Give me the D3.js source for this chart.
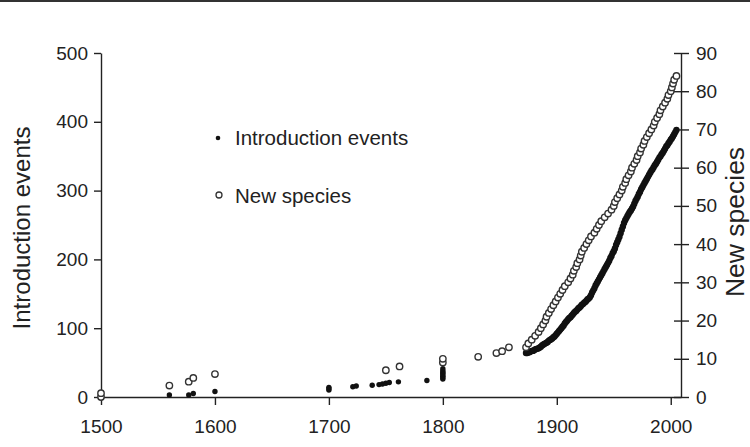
<!DOCTYPE html>
<html>
<head>
<meta charset="utf-8">
<script src="https://cdn.jsdelivr.net/npm/d3@7"></script>
<style>
  body { margin: 0; background: #fff; }
  svg { display: block; font-family: "Liberation Sans", Arial, sans-serif; }
</style>
</head>
<body>
<svg></svg>
<script>
const width = 750;
const height = 447;

// introduction events (left axis), early scattered records
const earlyIntroYears = [1500, 1560, 1577, 1581, 1600, 1700, 1700, 1700, 1721, 1724, 1738, 1744, 1747, 1750, 1753, 1761, 1786,
    1800, 1800, 1800, 1800, 1800, 1800, 1800, 1800];
const earlyIntroCounts = [1, 3, 3, 5, 8, 10, 12, 14, 15, 16, 17, 18, 19, 20, 21, 22, 24,
    26, 28, 30, 32, 34, 36, 38, 41];

// introduction events, one reading per year 1873-2005
const introYears = d3.range(1873, 2006);
const introCounts = [
    64, 64, 65, 65, 66, 67, 67, 68, 69, 70, 70, 71, 72, 73, 75, 76, 77, 78, 79, 80,
    82, 83, 84, 85, 87, 88, 90, 92, 94, 96, 98, 100, 102, 104, 107, 109, 111, 113, 115, 116,
    118, 120, 122, 124, 125, 127, 129, 130, 132, 134, 135, 137, 138, 140, 142, 143, 145, 148, 152, 155,
    158, 162, 165, 168, 171, 174, 177, 180, 183, 186, 189, 192, 195, 198, 202, 205, 209, 212, 216, 221,
    225, 229, 233, 238, 243, 248, 253, 257, 260, 263, 266, 269, 271, 274, 277, 281, 285, 288, 291, 295,
    298, 302, 305, 308, 311, 314, 317, 320, 323, 326, 329, 331, 334, 337, 339, 342, 345, 348, 350, 353,
    355, 358, 361, 364, 366, 369, 371, 374, 376, 379, 382, 385, 388
];

// new species (right axis), cumulative
const speciesYears = [1500, 1500, 1560, 1577, 1581, 1600, 1750, 1762, 1800, 1800, 1831, 1847, 1852, 1858,
    1873, 1875, 1878, 1881, 1884, 1886, 1888, 1890, 1891, 1893, 1895, 1897, 1899, 1901, 1903, 1905,
    1907, 1910, 1912, 1914, 1915, 1917, 1918, 1920, 1921, 1922, 1924, 1926, 1928, 1930, 1933, 1935,
    1937, 1939, 1942, 1945, 1948, 1950, 1951, 1953, 1955, 1957, 1958, 1960, 1961, 1963, 1965, 1966,
    1968, 1970, 1971, 1973, 1974, 1976, 1977, 1979, 1981, 1983, 1985, 1986, 1988, 1990, 1991, 1993,
    1995, 1997, 1998, 2000, 2001, 2002, 2003, 2005];
const speciesCounts = [0, 1, 3, 4, 5, 6, 7, 8, 9, 10, 10.5, 11.5, 12, 13,
    13, 14, 15, 16, 17, 18, 19, 20, 21, 22, 23, 24, 25, 26, 27, 28,
    29, 30, 31, 32, 33, 34, 35, 36, 37, 38, 39, 40, 41, 42, 43, 44,
    45, 46, 47, 48, 49, 50, 51, 52, 53, 54, 55, 56, 57, 58, 59, 60,
    61, 62, 63, 64, 65, 66, 67, 68, 69, 70, 71, 72, 73, 74, 75, 76,
    77, 78, 79, 80, 81, 82, 83, 84];

const xTicks = [1500, 1600, 1700, 1800, 1900, 2000];
const leftTicks = [0, 100, 200, 300, 400, 500];
const rightTicks = [0, 10, 20, 30, 40, 50, 60, 70, 80, 90];

const plotLeft = 101, plotRight = 681, plotTop = 53, plotBottom = 397;

const x = d3.scaleLinear().domain([1500, 2009]).range([plotLeft, plotRight]);
const yLeft = d3.scaleLinear().domain([0, 500]).range([plotBottom, plotTop]);
const yRight = d3.scaleLinear().domain([0, 90]).range([plotBottom, plotTop]);

const svg = d3.select('svg')
    .attr('width', width)
    .attr('height', height);

svg.append('rect').attr('width', width).attr('height', height).attr('fill', '#fff');
svg.append('rect')
    .attr('x', 0).attr('y', 0)
    .attr('width', width).attr('height', 2)
    .attr('fill', '#333');

function styleAxis(g) {
    g.selectAll('path, line').attr('stroke', '#222').attr('stroke-width', 1.4);
    g.selectAll('text')
        .attr('fill', '#222')
        .style('font-size', '19px')
        .style('font-family', '"Liberation Sans", Arial, sans-serif');
}

svg.append('g')
    .attr('transform', `translate(0, ${plotBottom})`)
    .call(d3.axisBottom(x).tickValues(xTicks).tickFormat(d3.format('d')).tickSize(8).tickSizeOuter(0).tickPadding(15))
    .call(styleAxis);

svg.append('g')
    .attr('transform', `translate(${plotLeft}, 0)`)
    .call(d3.axisLeft(yLeft).tickValues(leftTicks).tickSize(7).tickSizeOuter(0).tickPadding(6))
    .call(styleAxis);

svg.append('g')
    .attr('transform', `translate(${plotRight}, 0)`)
    .call(d3.axisRight(yRight).tickValues(rightTicks).tickSize(8).tickSizeOuter(0).tickPadding(7))
    .call(styleAxis)
    .call(g => g.selectAll('.tick line').attr('x1', -7).attr('x2', 8));

// axis titles
svg.append('text')
    .attr('transform', `translate(30, 228) rotate(-90)`)
    .attr('text-anchor', 'middle')
    .attr('fill', '#222')
    .style('font-size', '24px')
    .text('Introduction events');

svg.append('text')
    .attr('transform', `translate(744, 222) rotate(-90)`)
    .attr('text-anchor', 'middle')
    .attr('fill', '#222')
    .style('font-size', '26.5px')
    .text('New species');

// points
const intro = earlyIntroYears.map((yr, i) => ({ year: yr, count: earlyIntroCounts[i] }))
    .concat(introYears.map((yr, i) => ({ year: yr, count: introCounts[i] })));
const species = speciesYears.map((yr, i) => ({ year: yr, count: speciesCounts[i] }));

svg.append('g')
    .selectAll('circle')
    .data(intro)
    .enter()
    .append('circle')
        .attr('cx', d => x(d.year))
        .attr('cy', d => yLeft(d.count))
        .attr('r', d => d.year >= 1873 ? 3.2 : 2.7)
        .attr('fill', '#111');

svg.append('g')
    .selectAll('circle')
    .data(species)
    .enter()
    .append('circle')
        .attr('cx', d => x(d.year))
        .attr('cy', d => yRight(d.count))
        .attr('r', 3.2)
        .attr('fill', '#fff')
        .attr('stroke', '#333')
        .attr('stroke-width', 1.4);

// legend
const legend = svg.append('g');
legend.append('circle').attr('cx', 218).attr('cy', 138).attr('r', 2.3).attr('fill', '#111');
legend.append('circle').attr('cx', 219).attr('cy', 195).attr('r', 3)
    .attr('fill', '#fff').attr('stroke', '#333').attr('stroke-width', 1.3);
legend.append('text').attr('x', 235).attr('y', 145).attr('fill', '#222')
    .style('font-size', '20.5px').text('Introduction events');
legend.append('text').attr('x', 235).attr('y', 203).attr('fill', '#222')
    .style('font-size', '20.5px').text('New species');
</script>
</body>
</html>
